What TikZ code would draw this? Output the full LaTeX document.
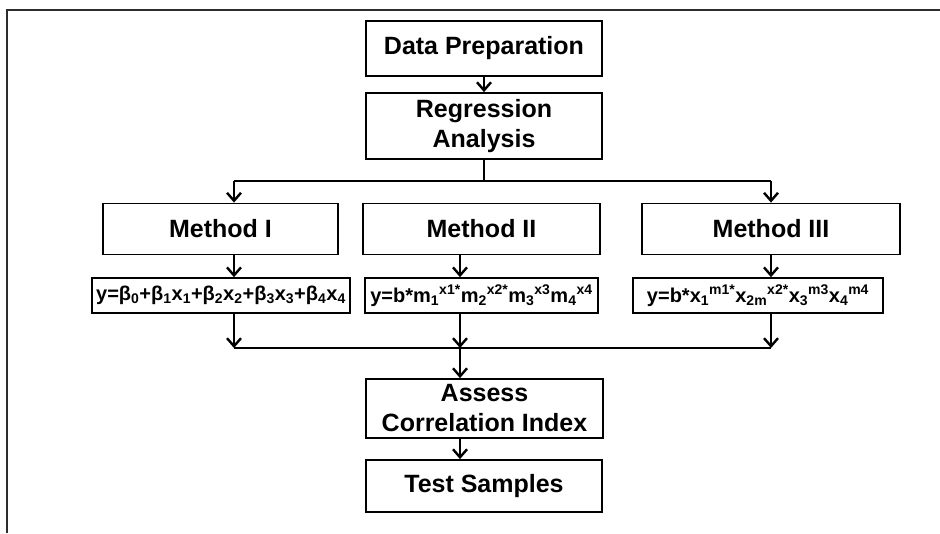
\documentclass[tikz,border=0pt]{standalone}
\usepackage{fontspec}
\setmainfont{Liberation Sans}
\usepackage{tikz}
\usetikzlibrary{arrows.meta}
\definecolor{framegray}{RGB}{45,45,45}

\begin{document}
\begin{tikzpicture}[x=1pt,y=-1pt,
  box/.style={draw, line width=1.8pt, align=center, inner sep=0pt, font=\bfseries\fontsize{25}{30}\selectfont},
  eqbox/.style={draw, line width=1.6pt, inner sep=0pt, minimum height=35pt, font=\bfseries\fontsize{20}{22}\selectfont},
  arr/.style={line width=2.4pt, -{Straight Barb[length=8pt,width=14pt,line width=2.4pt]}},
  ln/.style={line width=2.4pt}]
\useasboundingbox (0,0) rectangle (940,533);
\draw[framegray, line width=2.2pt] (7,533) -- (7,10) -- (940,10);
\node[box, minimum width=236pt, minimum height=55pt] (prep) at (484,48.5) {Data Preparation};
\node[box, minimum width=236pt, minimum height=66pt] (regr) at (484,126) {Regression\\Analysis};
\node[box, minimum width=235pt, minimum height=51pt] (m1) at (220.5,229) {Method I};
\node[box, minimum width=237pt, minimum height=51pt] (m2) at (481.5,229) {Method II};
\node[box, minimum width=258pt, minimum height=51pt] (m3) at (771,229) {Method III};
\node[eqbox, minimum width=258pt] (f1) at (221,295.5) {y=β\textsubscript{0}+β\textsubscript{1}x\textsubscript{1}+β\textsubscript{2}x\textsubscript{2}+β\textsubscript{3}x\textsubscript{3}+β\textsubscript{4}x\textsubscript{4}};
\node[eqbox, minimum width=233pt] (f2) at (481.5,295.5) {y=b*m\textsubscript{1}\textsuperscript{x1*}m\textsubscript{2}\textsuperscript{x2*}m\textsubscript{3}\textsuperscript{x3}m\textsubscript{4}\textsuperscript{x4}};
\node[eqbox, minimum width=250pt] (f3) at (758,295.5) {y=b*x\textsubscript{1}\textsuperscript{m1*}x\textsubscript{2m}\textsuperscript{x2*}x\textsubscript{3}\textsuperscript{m3}x\textsubscript{4}\textsuperscript{m4}};
\node[box, minimum width=237pt, minimum height=59pt] (assess) at (484.5,408.5) {Assess\\Correlation Index};
\node[box, minimum width=236pt, minimum height=52pt] (test) at (484,486) {Test Samples};
\coordinate (colA) at (234,181);
\coordinate (colB) at (460,348);
\coordinate (colC) at (771,181);
\coordinate (split) at (484,181);
\coordinate (merge) at (460,348);
\draw[arr] (prep) -- (regr);
\draw[ln] (regr.south) -- (split);
\draw[ln] (colA) -- (colC);
\draw[arr] (colA) -- (m1.north -| colA);
\draw[arr] (colC) -- (m3.north -| colC);
\draw[arr] (m1.south -| colA) -- (f1.north -| colA);
\draw[arr] (m2.south -| colB) -- (f2.north -| colB);
\draw[arr] (m3.south -| colC) -- (f3.north -| colC);
\draw[ln] (merge -| colA) -- (merge -| colC);
\draw[arr] (f1.south -| colA) -- (merge -| colA);
\draw[arr] (f2.south -| colB) -- (merge);
\draw[arr] (f3.south -| colC) -- (merge -| colC);
\draw[arr] (merge) -- (assess.north -| merge);
\draw[arr] (assess.south -| merge) -- (test.north -| merge);
\end{tikzpicture}
\end{document}
